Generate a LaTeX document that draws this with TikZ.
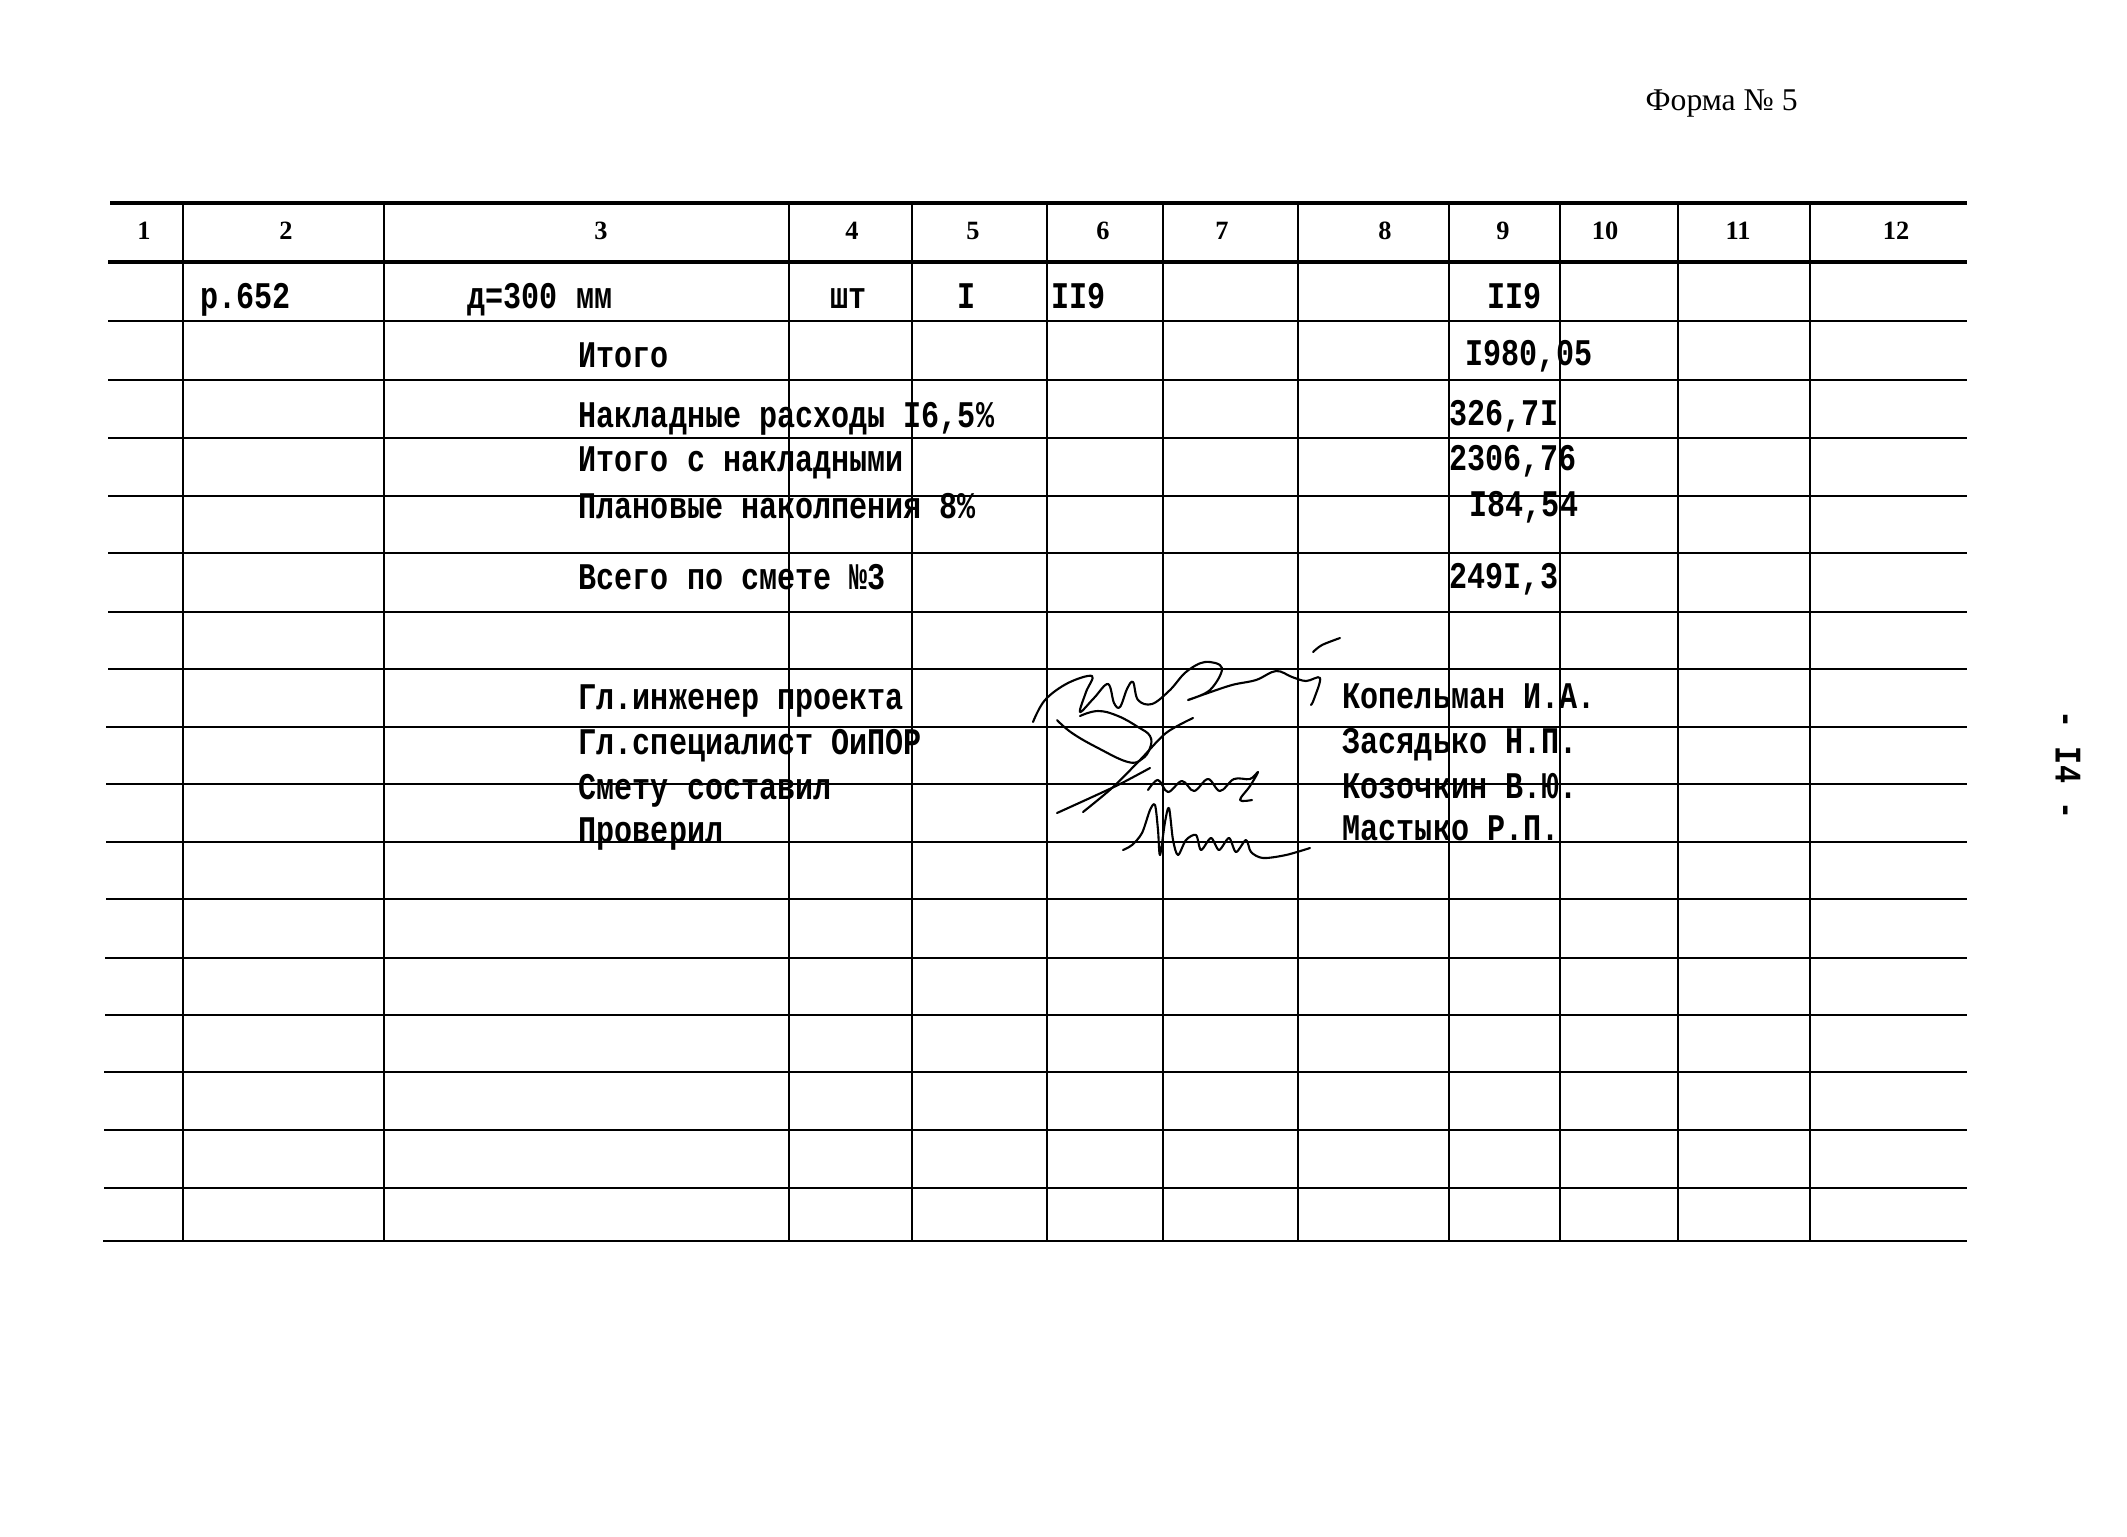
\documentclass[tikz,border=0pt]{standalone}
\usepackage{fontspec}
\setmainfont{Liberation Serif}
\newfontfamily\typewr[FakeStretch=0.8]{Liberation Mono}
\newcommand{\twfont}{\typewr\bfseries\fontsize{10.7}{12}\selectfont}
\begin{document}
\begin{tikzpicture}[x=0.01cm,y=-0.01cm,
  rule/.style={line width=0.55pt},
  heavyrule/.style={line width=0.9pt},
  colrule/.style={line width=0.7pt},
  hdr/.style={font=\bfseries\fontsize{7.5}{9}\selectfont,anchor=base,inner sep=0pt},
  cell/.style={font=\twfont,anchor=base west,inner sep=0pt},
  sig/.style={line width=0.6pt,line join=round,line cap=round}]
\useasboundingbox (0,0) rectangle (2127,1536);
\node[font=\fontsize{9}{11}\selectfont,anchor=base west,inner sep=0pt] (forma) at (1645,110) {Форма № 5};
\node[font=\twfont,rotate=-90] (page) at (2068,765) {- I4 -};
% grid
\draw[heavyrule](110,203)--(1967,203);
\draw[heavyrule](108,262)--(1967,262);
\draw[rule](108,321)--(1967,321) (108,380)--(1967,380) (108,438)--(1967,438)
 (108,496)--(1967,496) (108,553)--(1967,553) (108,612)--(1967,612)
 (108,669)--(1967,669) (106,727)--(1967,727) (106,784)--(1967,784)
 (106,842)--(1967,842) (106,899)--(1967,899) (105,958)--(1967,958)
 (105,1015)--(1967,1015) (104,1072)--(1967,1072) (104,1130)--(1967,1130)
 (104,1188)--(1967,1188) (103,1241)--(1967,1241);
\draw[colrule](183,203)--(183,1241) (384,203)--(384,1241) (789,203)--(789,1241)
 (912,203)--(912,1241) (1047,203)--(1047,1241) (1163,203)--(1163,1241)
 (1298,203)--(1298,1241) (1449,203)--(1449,1241) (1560,203)--(1560,1241)
 (1678,203)--(1678,1241) (1810,203)--(1810,1241);
% header
\node[hdr] (h1) at (144,239) {1};
\node[hdr] (h2) at (286,239) {2};
\node[hdr] (h3) at (601,239) {3};
\node[hdr] (h4) at (852,239) {4};
\node[hdr] (h5) at (973,239) {5};
\node[hdr] (h6) at (1103,239) {6};
\node[hdr] (h7) at (1222,239) {7};
\node[hdr] (h8) at (1385,239) {8};
\node[hdr] (h9) at (1503,239) {9};
\node[hdr] (h10) at (1605,239) {10};
\node[hdr] (h11) at (1738,239) {11};
\node[hdr] (h12) at (1896,239) {12};
% rows
\node[cell] (code) at (200,308) {р.652};
\node[cell] (item) at (467,308) {д=300 мм};
\node[cell] (unit) at (830,308) {шт};
\node[cell,anchor=base] (qty) at (967,308) {I};
\node[cell] (price) at (1051,308) {II9};
\node[cell] (sum) at (1487,308) {II9};
\node[cell] (itogo) at (578,367) {Итого};
\node[cell] (itogov) at (1465,365) {I980,05};
\node[cell] (nakl) at (578,427) {Накладные расходы I6,5\%};
\node[cell] (naklv) at (1449,425) {326,7I};
\node[cell] (itnakl) at (578,471) {Итого с накладными};
\node[cell] (itnaklv) at (1449,470) {2306,76};
\node[cell] (plan) at (578,518) {Плановые наколпения 8\%};
\node[cell] (planv) at (1469,516) {I84,54};
\node[cell] (vsego) at (578,589) {Всего по смете №3};
\node[cell] (vsegov) at (1449,588) {249I,3};
% signatures
\node[cell] (role1) at (578,709) {Гл.инженер проекта};
\node[cell] (role2) at (578,754) {Гл.специалист ОиПОР};
\node[cell] (role3) at (578,799) {Смету составил};
\node[cell] (role4) at (578,842) {Проверил};
\node[cell] (name1) at (1342,708) {Копельман И.А.};
\node[cell] (name2) at (1342,753) {Засядько Н.П.};
\node[cell] (name3) at (1342,798) {Козочкин В.Ю.};
\node[cell] (name4) at (1342,840) {Мастыко Р.П.};
\draw[sig] plot[smooth,tension=0.6] coordinates {(1033,722) (1045,700) (1068,683) (1092,676) (1086,692) (1080,712) (1094,698) (1108,684) (1114,703) (1120,707) (1127,689) (1133,682) (1138,700) (1152,704) (1170,690) (1186,672) (1205,662) (1222,668) (1210,690) (1188,700) (1205,694) (1232,685) (1256,680) (1276,671) (1292,677) (1306,681) (1320,678) (1314,699) (1311,705)};
\draw[sig] plot[smooth] coordinates {(1313,652) (1322,645) (1340,638)};
\draw[sig] plot[smooth,tension=0.7] coordinates {(1057,720) (1072,733) (1098,748) (1128,762) (1142,759) (1150,748) (1150,736) (1138,727) (1118,716) (1098,711) (1080,716)};
\draw[sig] plot[smooth] coordinates {(1057,813) (1090,798) (1120,784) (1150,768)};
\draw[sig] plot[smooth] coordinates {(1083,812) (1112,788) (1140,760) (1166,733) (1193,718)};
\draw[sig] plot[smooth,tension=0.6] coordinates {(1148,790) (1158,780) (1168,792) (1182,781) (1194,791) (1208,779) (1220,791) (1234,779) (1250,779) (1258,772) (1250,786) (1240,800) (1252,800)};
\draw[sig] plot[smooth,tension=0.5] coordinates {(1123,850) (1132,845) (1142,833) (1150,810) (1155,805) (1158,830) (1160,855) (1165,822) (1169,808) (1173,840) (1178,855) (1186,840) (1196,835) (1201,850) (1211,838) (1219,850) (1229,838) (1236,852) (1246,840) (1251,852) (1263,858) (1286,855) (1310,848)};
\end{tikzpicture}
\end{document}
